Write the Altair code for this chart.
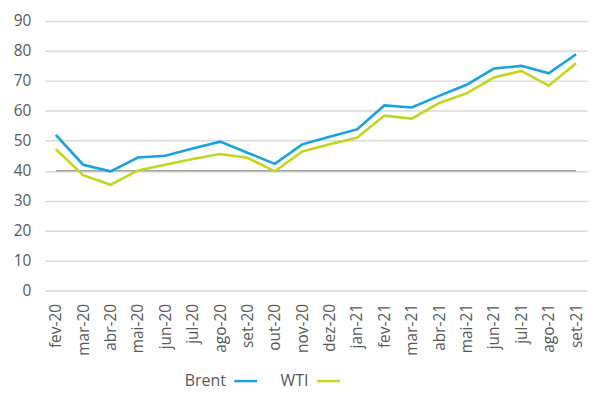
import altair as alt
import pandas as pd

months = ["fev-20", "mar-20", "abr-20", "mai-20", "jun-20", "jul-20", "ago-20", "set-20",
          "out-20", "nov-20", "dez-20", "jan-21", "fev-21", "mar-21", "abr-21", "mai-21",
          "jun-21", "jul-21", "ago-21", "set-21"]
brent = [52.0, 42.0, 39.8, 44.4, 45.0, 47.4, 49.7, 46.0, 42.3, 48.8, 51.3, 53.8,
         61.8, 61.1, 65.0, 68.7, 74.1, 75.0, 72.5, 78.9]
wti = [47.2, 38.5, 35.3, 40.1, 42.0, 43.9, 45.6, 44.3, 39.8, 46.4, 48.8, 51.0,
       58.4, 57.4, 62.6, 65.8, 71.1, 73.3, 68.4, 75.9]
series = ["Brent", "WTI"]
colors = ["#17A2E0", "#C2D61E"]

rows = []
for m, b, w in zip(months, brent, wti):
    rows.append({"mes": m, "serie": "Brent", "valor": b})
    rows.append({"mes": m, "serie": "WTI", "valor": w})
df = pd.DataFrame(rows)

FONT = "Open Sans"
TXT = "#595959"

xscale = alt.Scale(type="point", domain=months, padding=0.4)
yscale = alt.Scale(domain=[0, 90], nice=False, zero=True)
xaxis = alt.Axis(title=None, labelAngle=-90, domain=False, ticks=False, grid=False,
                 labelPadding=13, labelFontSize=15.5, labelColor=TXT, labelFont=FONT)
yaxis = alt.Axis(title=None, values=list(range(0, 100, 10)), domain=False, ticks=False,
                 grid=True, gridColor="#D9D9D9", gridWidth=1.5, labelPadding=14,
                 labelFontSize=15.5, labelColor=TXT, labelFont=FONT)

axis_df = pd.DataFrame({"a": [months[0]], "b": [months[-1]], "v": [40]})
axis40 = alt.Chart(axis_df).mark_rule(color="#A6A6A6", strokeWidth=1.5).encode(
    x=alt.X("a:N", scale=xscale, axis=xaxis), x2="b:N",
    y=alt.Y("v:Q", scale=yscale, axis=yaxis),
)

lines = alt.Chart(df).mark_line(strokeWidth=2.6).encode(
    x=alt.X("mes:N", scale=xscale, axis=xaxis),
    y=alt.Y("valor:Q", scale=yscale, axis=yaxis),
    color=alt.Color("serie:N", scale=alt.Scale(domain=series, range=colors),
                    legend=alt.Legend(title=None, orient="none", direction="horizontal",
                                      legendX=189, legendY=349, symbolType="stroke",
                                      symbolSize=529, symbolStrokeWidth=2.5,
                                      labelAlign="right", labelOffset={"expr": "-33"},
                                      columnPadding=17,
                                      labelFontSize=16, labelColor=TXT, labelFont=FONT)),
)

chart = alt.layer(axis40, lines).properties(
    width=545, height=271,
    autosize=alt.AutoSizeParams(type="none"),
    padding={"left": 37, "top": 12, "right": 5, "bottom": 108},
).configure_view(stroke=None)

chart.save("out.html", embed_options={"renderer": "svg", "actions": False})
